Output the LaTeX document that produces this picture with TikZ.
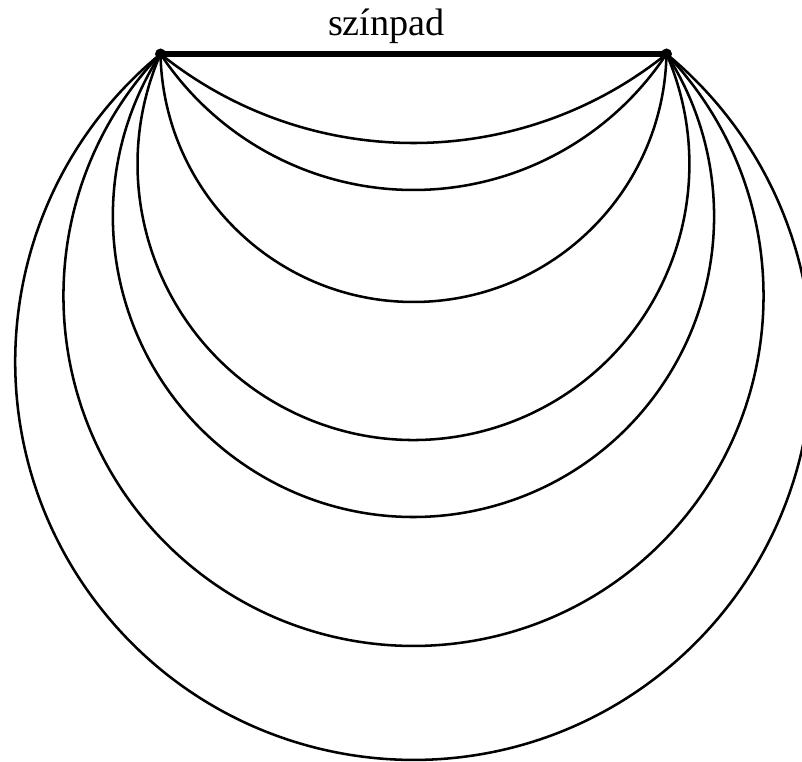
\documentclass[tikz,border=0pt]{standalone}
\usepackage{fontspec}
\setmainfont{Liberation Serif}
\usepackage{tikz}
\usetikzlibrary{positioning}

\begin{document}
\begin{tikzpicture}[
    x=7.5pt, y=7.5pt,
    stage/.style={line width=4.8pt, draw=black},
    seatarc/.style={line width=1.9pt, draw=black},
    label/.style={font=\fontsize{28.7}{34}\selectfont, inner sep=0pt}
  ]
    \useasboundingbox (0,0) rectangle (80.2,76.2);

    \coordinate (left) at (16.05,70.8);
    \coordinate (right) at (66.65,70.8);

    % stage with its two ends
    \draw[stage] (left) -- (right);
    \fill (left) circle[radius=0.55];
    \fill (right) circle[radius=0.55];
    \node[label, anchor=base] (title) at (38.65,72.65) {színpad};

    % arcs through both ends, s = depth below the stage
    \foreach \s in {8.9,13.6,24.8,38.6,46.3,59.2,70.6} {
      \pgfmathsetmacro\r{(25.3*25.3+\s*\s)/(2*\s)}
      \pgfmathsetmacro\a{atan((\r-\s)/25.3)}
      \draw[seatarc] (left) arc[start angle=180+\a, end angle=360-\a, radius=\r];
    }
  \end{tikzpicture}
\end{document}
